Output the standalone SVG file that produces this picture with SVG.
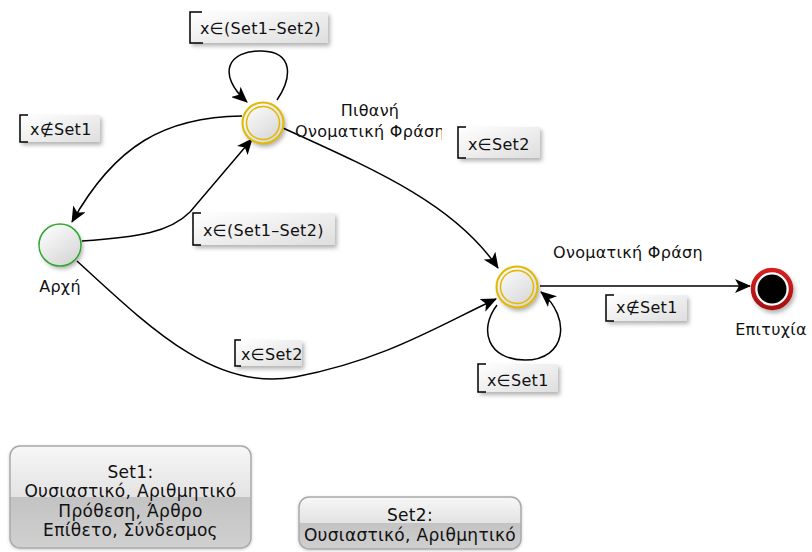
<svg xmlns="http://www.w3.org/2000/svg" width="812" height="552" viewBox="0 0 812 552">
  <style>
    text { font-family: "DejaVu Sans", "Noto Sans", sans-serif; fill: #111; }
    .lbl { font-size: 16px; letter-spacing: 0.3px; }
    .name { font-size: 16px; letter-spacing: 0.3px; }
    .leg { font-size: 17px; letter-spacing: 0.3px; text-anchor: middle; }
    .edge { fill: none; stroke: #000; stroke-width: 1.5; marker-end: url(#arrow); }
    .tagbox { fill: url(#tagFill); filter: url(#shadow); }
    .bracket { fill: none; stroke: #000; stroke-width: 1.5; }
    .state { fill: url(#nodeFill); filter: url(#shadow); }
    .ring { fill: none; stroke: #e2b800; }
    .legbox { fill: url(#legFill); stroke: #a9a9a9; stroke-width: 1.5; filter: url(#softShadow); }
  </style>
  <defs>
    <marker id="arrow" markerUnits="userSpaceOnUse" markerWidth="16" markerHeight="14" viewBox="0 0 16 14" refX="15" refY="7" orient="auto">
      <path d="M0,0 L16,7 L0,14 L4,7 z" fill="#000"/>
    </marker>
    <linearGradient id="tagFill" x1="0" y1="0" x2="1" y2="1">
      <stop offset="0" stop-color="#ffffff"/>
      <stop offset="1" stop-color="#dedede"/>
    </linearGradient>
    <linearGradient id="nodeFill" x1="0.2" y1="0.1" x2="0.8" y2="0.95">
      <stop offset="0" stop-color="#fafafa"/>
      <stop offset="1" stop-color="#d6d6d6"/>
    </linearGradient>
    <linearGradient id="legFill" x1="0" y1="0" x2="0" y2="1">
      <stop offset="0" stop-color="#f7f7f7"/>
      <stop offset="0.5" stop-color="#e3e3e3"/>
      <stop offset="0.5" stop-color="#c3c3c3"/>
      <stop offset="1" stop-color="#d0d0d0"/>
    </linearGradient>
    <linearGradient id="redFill" x1="0" y1="0" x2="0" y2="1">
      <stop offset="0" stop-color="#d62020"/>
      <stop offset="1" stop-color="#a81010"/>
    </linearGradient>
    <filter id="shadow" x="-30%" y="-30%" width="170%" height="170%">
      <feDropShadow dx="2" dy="3" stdDeviation="2" flood-color="#000" flood-opacity="0.3"/>
    </filter>
    <filter id="softShadow" x="-10%" y="-20%" width="120%" height="150%">
      <feDropShadow dx="0" dy="1" stdDeviation="1.5" flood-color="#000" flood-opacity="0.2"/>
    </filter>
    <clipPath id="nameClip">
      <rect x="280" y="95" width="162" height="50"/>
    </clipPath>
  </defs>

  <!-- transitions -->
  <g id="connectors">
    <path class="edge" d="M 277,100 C 292,78 294,52 262,51 C 228,50 216,74 247,102"/>
    <path class="edge" d="M 242,116 C 165,117 115,145 72,222"/>
    <path class="edge" d="M 82,241 C 140,237 170,232 190,212 L 252,139"/>
    <path class="edge" d="M 283,128 C 380,172 455,205 498,268"/>
    <path class="edge" d="M 77,261 C 150,328 215,392 295,377 C 385,360 440,325 496,299"/>
    <path class="edge" d="M 497,305 C 478,330 488,360 525,360 C 566,360 572,318 541,292"/>
    <path class="edge" d="M 540,286 L 750,286"/>
  </g>

  <!-- transition conditions -->
  <g id="tag-loop-possible">
    <rect class="tagbox" x="190" y="12" width="138" height="31"/>
    <path class="bracket" d="M 202,12 L 190,12 L 190,43 L 203,43"/>
    <text class="lbl" x="200" y="34">x∈(Set1–Set2)</text>
  </g>
  <g id="tag-back-start">
    <rect class="tagbox" x="20" y="115" width="80" height="27"/>
    <path class="bracket" d="M 28,115 L 20,115 L 20,142 L 28,142"/>
    <text class="lbl" x="30" y="135">x∉Set1</text>
  </g>
  <g id="tag-start-possible">
    <rect class="tagbox" x="193" y="213" width="142" height="32"/>
    <path class="bracket" d="M 201,213 L 193,213 L 193,245 L 201,245"/>
    <text class="lbl" x="203" y="236">x∈(Set1–Set2)</text>
  </g>
  <g id="tag-possible-np">
    <rect class="tagbox" x="458" y="127" width="82" height="31"/>
    <path class="bracket" d="M 466,127 L 458,127 L 458,158 L 466,158"/>
    <text class="lbl" x="468" y="150">x∈Set2</text>
  </g>
  <g id="tag-np-success">
    <rect class="tagbox" x="606" y="295" width="81" height="26"/>
    <path class="bracket" d="M 614,295 L 606,295 L 606,321 L 614,321"/>
    <text class="lbl" x="616" y="313">x∉Set1</text>
  </g>
  <g id="tag-np-loop">
    <rect class="tagbox" x="478" y="364" width="80" height="28"/>
    <path class="bracket" d="M 486,364 L 478,364 L 478,392 L 486,392"/>
    <text class="lbl" x="487" y="386">x∈Set1</text>
  </g>
  <g id="tag-start-np">
    <rect class="tagbox" x="235" y="340" width="67" height="26"/>
    <path class="bracket" d="M 241,340 L 235,340 L 235,366 L 241,366"/>
    <text class="lbl" x="241" y="360">x∈Set2</text>
  </g>

  <!-- states -->
  <g id="state-start">
    <circle class="state" cx="60" cy="245" r="21"/>
    <circle cx="60" cy="245" r="21" fill="none" stroke="#2ea82e" stroke-width="1.5"/>
    <text class="name" x="60" y="292" text-anchor="middle">Αρχή</text>
  </g>
  <g id="state-possible-np">
    <circle class="state" cx="263" cy="123" r="21"/>
    <circle class="ring" cx="263" cy="123" r="20.5" stroke-width="2"/>
    <circle class="ring" cx="263" cy="123" r="16.5" stroke-width="1.5"/>
    <g clip-path="url(#nameClip)">
      <text class="name" x="370" y="116" text-anchor="middle">Πιθανή</text>
      <text class="name" x="370" y="137" text-anchor="middle">Ονοματική Φράση</text>
    </g>
  </g>
  <g id="state-np">
    <circle class="state" cx="517" cy="287" r="21"/>
    <circle class="ring" cx="517" cy="287" r="20.5" stroke-width="2"/>
    <circle class="ring" cx="517" cy="287" r="16.5" stroke-width="1.5"/>
    <text class="name" x="628" y="258" text-anchor="middle">Ονοματική Φράση</text>
  </g>
  <g id="state-success">
    <circle cx="772" cy="289" r="21" fill="#fff" filter="url(#shadow)"/>
    <circle cx="772" cy="289" r="19" fill="#fff" stroke="url(#redFill)" stroke-width="4.5"/>
    <circle cx="772" cy="289" r="14.5" fill="#000"/>
    <text class="name" x="771" y="335" text-anchor="middle">Επιτυχία</text>
  </g>

  <!-- set legends -->
  <g id="legend-set1">
    <rect class="legbox" x="10" y="446" width="241" height="102" rx="10"/>
    <text class="leg" x="130.5" y="478">Set1:</text>
    <text class="leg" x="130.5" y="497">Ουσιαστικό, Αριθμητικό</text>
    <text class="leg" x="130.5" y="517">Πρόθεση, Άρθρο</text>
    <text class="leg" x="130.5" y="536">Επίθετο, Σύνδεσμος</text>
  </g>
  <g id="legend-set2">
    <rect class="legbox" x="299" y="497" width="222" height="52" rx="10"/>
    <text class="leg" x="410" y="521">Set2:</text>
    <text class="leg" x="410" y="541">Ουσιαστικό, Αριθμητικό</text>
  </g>
</svg>
